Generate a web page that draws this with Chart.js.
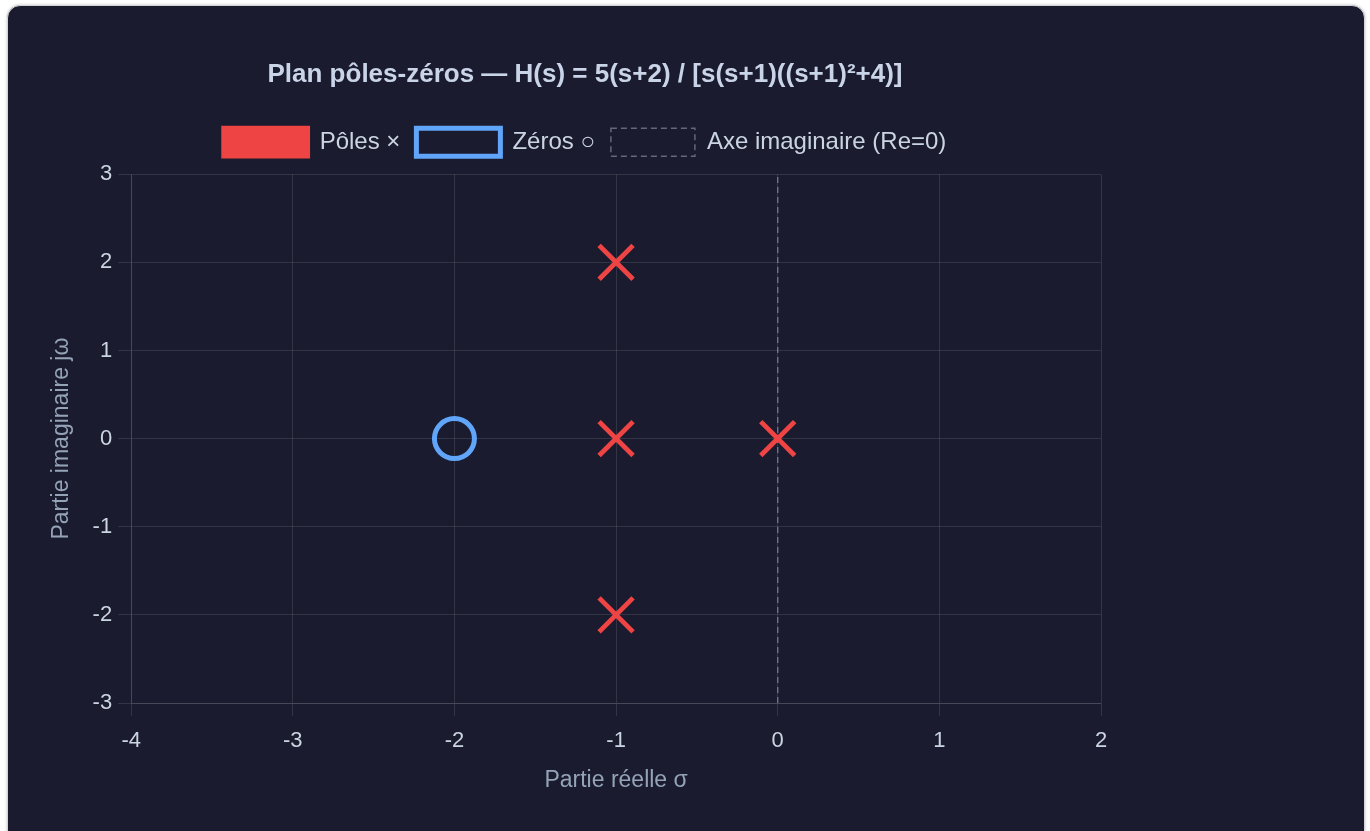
<!DOCTYPE html>
<html lang="fr">
<head>
<meta charset="utf-8">
<title>Plan pôles-zéros</title>
<script src="https://cdn.jsdelivr.net/npm/chart.js@4.4.1/dist/chart.umd.min.js"></script>
<style>
  html, body { margin: 0; padding: 0; background: #ffffff; }
  body { width: 1370px; height: 831px; overflow: hidden; position: relative; }
  .carte {
    position: absolute; left: 7px; top: 5px;
    width: 1356px; height: 860px;
    background: #1a1b2e;
    border: 1px solid #d4d4d8;
    border-radius: 13px;
    box-shadow: 0 0 3px rgba(0, 0, 0, 0.25);
  }
  .zone { position: absolute; left: 12px; top: 24px; width: 1130px; height: 774px; }
</style>
</head>
<body>
<div class="carte">
  <div class="zone"><canvas id="pz-chart"></canvas></div>
</div>
<script>
// Pôles et zéros de H(s) = 5(s+2) / [s(s+1)((s+1)²+4)]
const poleRe = [0, -1, -1, -1];
const poleIm = [0, 0, 2, -2];
const zeroRe = [-2];
const zeroIm = [0];

// Axe imaginaire (Re = 0) tracé sur toute la hauteur
const axeRe = [0, 0];
const axeIm = [-3, 3];

// Graduations
const xTicks = [-4, -3, -2, -1, 0, 1, 2];
const yTicks = [-3, -2, -1, 0, 1, 2, 3];

const gridColor = 'rgba(255, 255, 255, 0.11)';
const tickColor = '#cbd5e1';
const axisTitleColor = '#94a3b8';

Chart.defaults.font.family = '"Liberation Sans", Arial, Helvetica, sans-serif';

const toPoints = (xs, ys) => xs.map((x, i) => ({ x: x, y: ys[i] }));

new Chart(document.getElementById('pz-chart'), {
    type: 'scatter',
    data: {
        datasets: [{
            label: 'Pôles ×',
            data: toPoints(poleRe, poleIm),
            pointStyle: 'crossRot',
            pointRadius: 24,
            pointHoverRadius: 24,
            borderColor: '#ef4444',
            backgroundColor: '#ef4444',
            borderWidth: 2,
            pointBorderWidth: 4.8,
            pointHoverBorderWidth: 4.8
        }, {
            label: 'Zéros ○',
            data: toPoints(zeroRe, zeroIm),
            pointStyle: 'circle',
            pointRadius: 20,
            pointHoverRadius: 20,
            borderColor: '#60a5fa',
            backgroundColor: 'transparent',
            pointBackgroundColor: 'transparent',
            borderWidth: 4,
            pointBorderWidth: 5,
            pointHoverBorderWidth: 5
        }, {
            label: 'Axe imaginaire (Re=0)',
            data: toPoints(axeRe, axeIm),
            showLine: true,
            pointRadius: 0,
            pointHoverRadius: 0,
            borderColor: 'rgba(160, 168, 185, 0.55)',
            backgroundColor: 'transparent',
            borderWidth: 1.5,
            borderDash: [6, 4]
        }]
    },
    options: {
        responsive: true,
        maintainAspectRatio: false,
        animation: false,
        layout: { padding: 0 },
        plugins: {
            title: {
                display: true,
                text: 'Plan pôles-zéros — H(s) = 5(s+2) / [s(s+1)((s+1)²+4)]',
                color: '#c9d4e8',
                font: { size: 26, weight: 'bold' },
                padding: { top: 29, bottom: 22 }
            },
            legend: {
                labels: {
                    color: '#cbd5e1',
                    font: { size: 24 },
                    boxWidth: 84,
                    boxHeight: 28,
                    padding: 16
                }
            },
            tooltip: { enabled: false }
        },
        scales: {
            x: {
                type: 'linear',
                position: 'bottom',
                min: -4,
                max: 2,
                afterBuildTicks: s => { s.ticks = xTicks.map(v => ({ value: v })); },
                grid: { color: gridColor, tickLength: 13 },
                border: { color: gridColor },
                ticks: { color: tickColor, font: { size: 22 }, padding: 12 },
                title: {
                    display: true,
                    text: 'Partie réelle σ',
                    color: axisTitleColor,
                    font: { size: 23 },
                    padding: { top: 0, bottom: 10 }
                }
            },
            y: {
                type: 'linear',
                position: 'left',
                min: -3,
                max: 3,
                afterBuildTicks: s => { s.ticks = yTicks.map(v => ({ value: v })); },
                grid: { color: gridColor, tickLength: 13 },
                border: { color: gridColor },
                ticks: { color: tickColor, font: { size: 22 }, padding: 6 },
                title: {
                    display: true,
                    text: 'Partie imaginaire jω',
                    color: axisTitleColor,
                    font: { size: 23 },
                    padding: { top: 28, bottom: 11 }
                }
            },
            // espace entre la légende et la zone de tracé
            margeHaut: {
                type: 'linear',
                position: 'top',
                display: true,
                grid: { display: false },
                ticks: { display: false },
                border: { display: false },
                afterFit: s => { s.height = 8; }
            },
            // marge à droite pour garder le titre et la légende centrés
            margeDroite: {
                type: 'linear',
                position: 'right',
                display: true,
                grid: { display: false },
                ticks: { display: false },
                border: { display: false },
                afterFit: s => { s.width = 49; }
            }
        }
    }
});
</script>
</body>
</html>
